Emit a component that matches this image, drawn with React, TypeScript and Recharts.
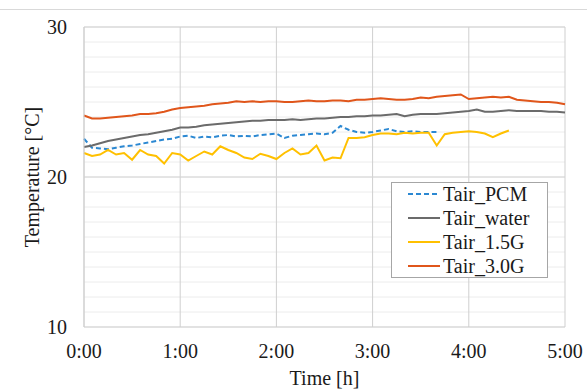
import { LineChart, Line, XAxis, YAxis, CartesianGrid, ReferenceLine } from "recharts";

// time in minutes since start (5 min steps)
const minutes = [
  0, 5, 10, 15, 20, 25, 30, 35, 40, 45, 50, 55, 60,
  65, 70, 75, 80, 85, 90, 95, 100, 105, 110, 115, 120,
  125, 130, 135, 140, 145, 150, 155, 160, 165, 170, 175, 180,
  185, 190, 195, 200, 205, 210, 215, 220, 225, 230, 235, 240,
  245, 250, 255, 260, 265, 270, 275, 280, 285, 290, 295, 300,
];

const tairPCM = [
  22.55, 21.95, 21.9, 21.85, 21.95, 22.05, 22.1, 22.2, 22.3, 22.4, 22.5, 22.55, 22.7,
  22.75, 22.6, 22.7, 22.65, 22.75, 22.8, 22.7, 22.75, 22.7, 22.8, 22.85, 22.9,
  22.6, 22.75, 22.8, 22.85, 22.9, 22.85, 22.95, 23.4, 23.15, 23.0, 22.95, 23.0,
  23.1, 23.2, 23.05, 23.0, 23.05, 23.0, 23.0, 23.0,
];

const tairWater = [
  22.0, 22.1, 22.25, 22.4, 22.5, 22.6, 22.7, 22.8, 22.85, 22.95, 23.05, 23.15, 23.3,
  23.3, 23.35, 23.45, 23.5, 23.55, 23.6, 23.65, 23.7, 23.75, 23.75, 23.8, 23.8,
  23.8, 23.85, 23.8, 23.85, 23.9, 23.9, 23.95, 24.0, 24.0, 24.05, 24.05, 24.1,
  24.1, 24.15, 24.2, 24.05, 24.15, 24.2, 24.2, 24.2, 24.25, 24.3, 24.35, 24.4,
  24.5, 24.35, 24.35, 24.4, 24.45, 24.4, 24.4, 24.4, 24.4, 24.35, 24.35, 24.3,
];

const tair15G = [
  21.6, 21.4, 21.5, 21.8, 21.5, 21.6, 21.15, 21.8, 21.5, 21.4, 20.9, 21.6, 21.5,
  21.1, 21.4, 21.7, 21.5, 22.05, 21.8, 21.6, 21.3, 21.2, 21.55, 21.4, 21.2,
  21.6, 21.9, 21.5, 21.6, 22.1, 21.1, 21.3, 21.25, 22.6, 22.6, 22.65, 22.8,
  22.9, 22.9, 22.85, 22.95, 22.9, 22.95, 22.95, 22.1, 22.85, 22.95, 23.0, 23.05,
  23.0, 22.9, 22.65, 22.9, 23.1,
];

const tair30G = [
  24.1, 23.9, 23.9, 23.95, 24.0, 24.05, 24.1, 24.2, 24.2, 24.25, 24.35, 24.5, 24.6,
  24.65, 24.7, 24.75, 24.85, 24.9, 24.95, 25.05, 25.0, 25.05, 25.0, 25.05, 25.05,
  25.0, 25.0, 25.05, 25.1, 25.05, 25.05, 25.1, 25.1, 25.05, 25.15, 25.15, 25.2,
  25.25, 25.2, 25.15, 25.15, 25.2, 25.3, 25.25, 25.35, 25.4, 25.45, 25.5, 25.2,
  25.25, 25.3, 25.35, 25.3, 25.35, 25.15, 25.1, 25.05, 25.0, 25.0, 24.95, 24.85,
];

const xTicks = [0, 60, 120, 180, 240, 300];
const xTickLabels = ["0:00", "1:00", "2:00", "3:00", "4:00", "5:00"];
const yTicks = [10, 11, 12, 13, 14, 15, 16, 17, 18, 19, 20, 21, 22, 23, 24, 25, 26, 27, 28, 29, 30];
const yLabelTicks = [10, 20, 30];

const series = [
  { key: "pcm", name: "Tair_PCM", color: "#2b88d2", dash: "5 3" },
  { key: "water", name: "Tair_water", color: "#6b6b6b", dash: undefined },
  { key: "g15", name: "Tair_1.5G", color: "#ffc000", dash: undefined },
  { key: "g30", name: "Tair_3.0G", color: "#e0561b", dash: undefined },
];

const data = minutes.map((t, i) => ({
  t,
  pcm: tairPCM[i] ?? null,
  water: tairWater[i] ?? null,
  g15: tair15G[i] ?? null,
  g30: tair30G[i] ?? null,
}));

const FONT = '"Liberation Serif", "Times New Roman", serif';

export default function App() {
  return (
    <div style={{ position: "absolute", left: 0, top: 0, width: 587, height: 389, background: "#fff" }}>
      {/* outer frame top edge */}
      <div style={{ position: "absolute", left: 0, top: 9, width: 587, height: 1, background: "#d9d9d9" }} />

      <LineChart width={587} height={389} data={data} margin={{ top: 27, right: 22, bottom: 0, left: 0 }}>
        <CartesianGrid horizontal={true} vertical={false} stroke="#ececec" />
        <CartesianGrid horizontal={false} vertical={true} stroke="#cfcfcf" />
        <ReferenceLine y={20} stroke="#d4d4d4" />
        <ReferenceLine y={30} stroke="#cfcfcf" />
        <XAxis
          dataKey="t"
          type="number"
          domain={[0, 300]}
          ticks={xTicks}
          tickFormatter={(v: number) => xTickLabels[xTicks.indexOf(v)] ?? ""}
          tickLine={false}
          tickMargin={11}
          axisLine={{ stroke: "#cfcfcf" }}
          height={62}
          tick={{ fill: "#1a1a1a", fontSize: 20, fontFamily: FONT }}
          label={{
            content: (p: any) => (
              <text
                x={p.viewBox.x + p.viewBox.width / 2}
                y={p.viewBox.y + 51}
                textAnchor="middle"
                dominantBaseline="central"
                fill="#1a1a1a"
                style={{ fontSize: 20, fontFamily: FONT }}
              >
                Time [h]
              </text>
            ),
          }}
        />
        <YAxis
          type="number"
          domain={[10, 30]}
          ticks={yTicks}
          interval={0}
          tickFormatter={(v: number) => (yLabelTicks.includes(v) ? String(v) : "")}
          tickLine={false}
          tickMargin={11}
          axisLine={{ stroke: "#cfcfcf" }}
          width={84}
          tick={{ fill: "#1a1a1a", fontSize: 20, fontFamily: FONT }}
          label={{
            content: (p: any) => {
              const cx = p.viewBox.x + 32;
              const cy = p.viewBox.y + p.viewBox.height / 2;
              return (
                <text
                  x={cx}
                  y={cy}
                  textAnchor="middle"
                  dominantBaseline="central"
                  transform={`rotate(-90 ${cx} ${cy})`}
                  fill="#1a1a1a"
                  style={{ fontSize: 20, fontFamily: FONT }}
                >
                  Temperature [°C]
                </text>
              );
            },
          }}
        />
        {series.map((s) => (
          <Line
            key={s.key}
            dataKey={s.key}
            name={s.name}
            type="linear"
            stroke={s.color}
            strokeWidth={2}
            strokeDasharray={s.dash}
            dot={false}
            connectNulls={false}
            isAnimationActive={false}
          />
        ))}
      </LineChart>

      {/* legend box */}
      <div
        style={{
          position: "absolute",
          left: 391,
          top: 182,
          width: 155,
          height: 94,
          border: "1px solid #a6a6a6",
          background: "#fff",
          fontFamily: FONT,
          fontSize: 20,
          color: "#1a1a1a",
        }}
      >
        {series.map((s, i) => (
          <div
            key={s.key}
            style={{ position: "absolute", left: 16, top: 11 + i * 24 - 12, height: 24, display: "flex", alignItems: "center" }}
          >
            <svg width={32} height={4} style={{ display: "block" }}>
              <line x1={0} y1={2} x2={32} y2={2} stroke={s.color} strokeWidth={2} strokeDasharray={s.dash} />
            </svg>
            <span style={{ marginLeft: 3, lineHeight: "24px", whiteSpace: "nowrap" }}>{s.name}</span>
          </div>
        ))}
      </div>
    </div>
  );
}
